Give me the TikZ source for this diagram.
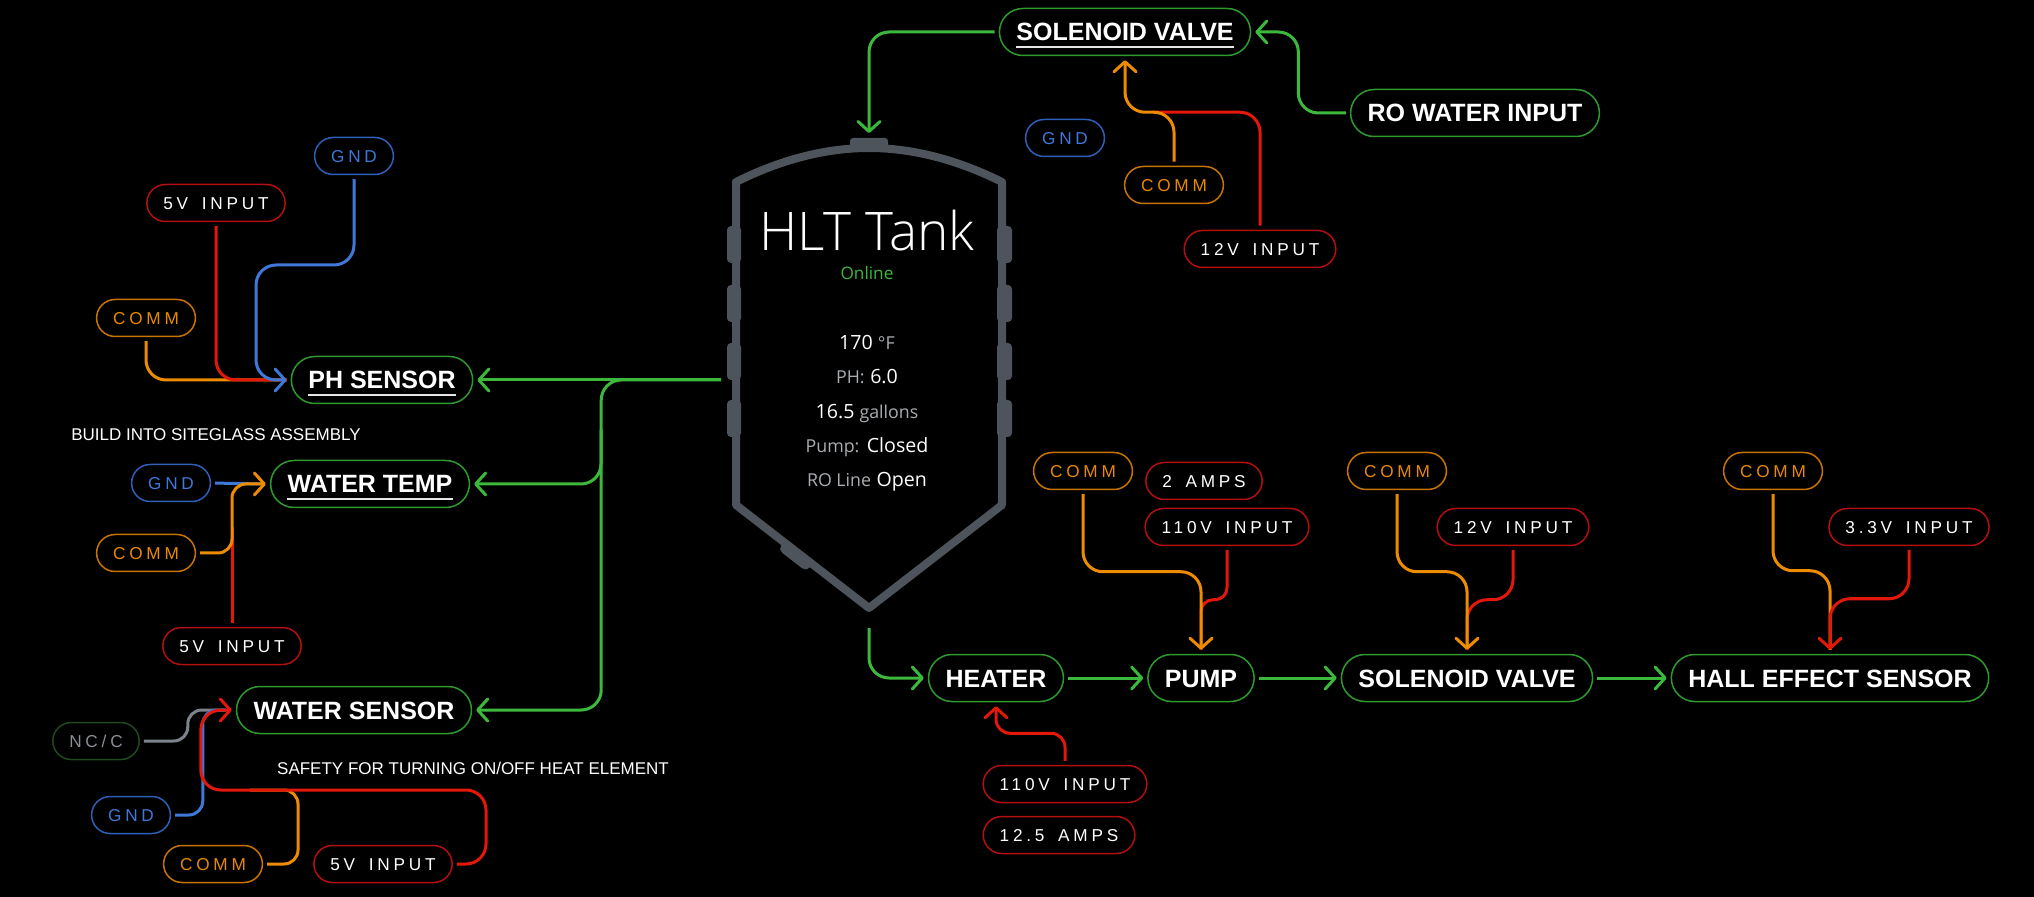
\documentclass[tikz,border=0pt]{standalone}
\usepackage{fontspec}
\setmainfont{Liberation Sans}
\newfontfamily\pillfont[LetterSpace=22,WordSpace=1.6]{Liberation Sans}
\newfontfamily\tankfont{Open Sans}
\newfontfamily\tanklight{Open Sans Light}
\usetikzlibrary{arrows.meta,calc}

\definecolor{gline}{HTML}{3CB93C}
\definecolor{gborder}{HTML}{2E9A2E}
\definecolor{rline}{HTML}{E3170A}
\definecolor{rborder}{HTML}{B50E0E}
\definecolor{oline}{HTML}{EE8C00}
\definecolor{oborder}{HTML}{C87400}
\definecolor{otext}{HTML}{E88A00}
\definecolor{bline}{HTML}{3F78D8}
\definecolor{bborder}{HTML}{2F5FB8}
\definecolor{btext}{HTML}{3F78D8}
\definecolor{ncline}{HTML}{7D838B}
\definecolor{ncborder}{HTML}{1E4A1E}
\definecolor{nctext}{HTML}{8A8F96}
\definecolor{tankgray}{HTML}{4D545C}
\definecolor{labgray}{HTML}{A9ADB2}
\definecolor{onlinegreen}{HTML}{3DB83D}
\definecolor{ulcol}{HTML}{E6E6E6}

\newcommand\tkval{\tankfont\fontsize{9.8}{12}\selectfont\color{white}}
\newcommand\tklab{\tankfont\fontsize{8.9}{12}\selectfont\color{labgray}}

\begin{document}
\begin{tikzpicture}[x=0.5pt,y=-0.5pt,
  mainnode/.style={draw=gborder, line width=0.75pt, rounded corners=11.75pt,
    minimum height=23.5pt, inner xsep=8.5pt, inner ysep=0pt,
    font=\fontsize{12.5}{15}\selectfont\bfseries, text=white,
    text height=9pt, text depth=0pt},
  pill/.style={line width=0.75pt, rounded corners=9.25pt, minimum height=18.5pt,
    inner xsep=8.25pt, inner ysep=0pt, font=\pillfont\fontsize{8.6}{11}\selectfont,
    text height=6.2pt, text depth=0pt},
  redpill/.style={pill, draw=rborder, text=white},
  orpill/.style={pill, draw=oborder, text=otext},
  bluepill/.style={pill, draw=bborder, text=btext},
  graypill/.style={pill, draw=ncborder, text=nctext},
  note/.style={font=\fontsize{8.5}{10}\selectfont, text=white, inner sep=0pt},
  wire/.style={line width=1.5pt, rounded corners=10pt, shorten <=2pt, shorten >=2pt},
  tightwire/.style={wire, rounded corners=7pt},
  arr/.style={-{Straight Barb[length=5pt,width=11pt,round]}},
  gw/.style={wire, draw=gline},
  rw/.style={wire, draw=rline},
  ow/.style={wire, draw=oline},
  bw/.style={wire, draw=bline},
  nw/.style={wire, draw=ncline},
  ulst/.style={draw=ulcol, line width=1pt},
  tankline/.style={draw=tankgray, line width=4pt, line join=round}
]
\useasboundingbox (0,0) rectangle (2034,897);
\fill[black] (0,0) rectangle (2034,897);

% ---------- tank ----------
\draw[tankline] (736,505) -- (736,182) .. controls (780,160) and (825,148) .. (869,148)
  .. controls (913,148) and (958,160) .. (1002,182) -- (1002,505) -- (869,608) -- cycle;
\fill[tankgray, rounded corners=1.5pt] (850,138) rectangle (888,150);
\foreach \yy in {226,285,343,400} {
  \fill[tankgray, rounded corners=2pt] (727,\yy) rectangle (741,\yy+37);
  \fill[tankgray, rounded corners=2pt] (997,\yy) rectangle (1012,\yy+37);
}
\draw[tankgray, line width=5.5pt, line cap=round] (785.6,548.5) -- (805.6,564);

\node[anchor=base, inner sep=0pt, font=\tanklight\fontsize{26.6}{30}\selectfont, text=white] (title) at (867,251) {HLT Tank};
\node[anchor=base, inner sep=0pt, font=\tankfont\fontsize{8.6}{10}\selectfont, text=onlinegreen] (online) at (867,280) {Online};
\node[anchor=base, inner sep=0pt] (t1) at (867,350) {\tkval 170 {\tklab °F}};
\node[anchor=base, inner sep=0pt] (t2) at (867,384) {{\tklab PH:} \tkval 6.0};
\node[anchor=base, inner sep=0pt] (t3) at (867,419) {\tkval 16.5 {\tklab gallons}};
\node[anchor=base, inner sep=0pt] (t4) at (867,453) {{\tklab Pump:} \tkval Closed};
\node[anchor=base, inner sep=0pt] (t5) at (867,487) {{\tklab RO Line} \tkval Open};

\coordinate (tankL) at (725,380);
\coordinate (tankTop) at (869,137);
\coordinate (tankBot) at (869,624);

% ---------- main nodes ----------
\node[mainnode] (phs) at (382,380) {PH SENSOR};
\node[mainnode] (wt) at (370,484) {WATER TEMP};
\node[mainnode] (ws) at (354,710) {WATER SENSOR};
\node[mainnode] (svtop) at (1125,32) {SOLENOID VALVE};
\node[mainnode] (ro) at (1475,113) {RO WATER INPUT};
\node[mainnode] (heater) at (996,678) {HEATER};
\node[mainnode] (pump) at (1201,678) {PUMP};
\node[mainnode] (sv) at (1467,678) {SOLENOID VALVE};
\node[mainnode] (hall) at (1830,678) {HALL EFFECT SENSOR};

\foreach \n in {phs,wt,svtop} {
  \draw[ulst] ($(\n.base west)+(8.5pt,-3pt)$) -- ($(\n.base east)+(-8.5pt,-3pt)$);
}

% ---------- pills ----------
\node[bluepill] (gndP) at (354,156) {GND};
\node[redpill] (v5P) at (216,203) {5V INPUT};
\node[orpill] (commP) at (146,318) {COMM};

\node[bluepill] (gndW) at (171,483) {GND};
\node[orpill] (commW) at (146,553) {COMM};
\node[redpill] (v5W) at (232,646) {5V INPUT};

\node[graypill] (nc) at (96,741) {NC/C};
\node[bluepill] (gndB) at (131,815) {GND};
\node[orpill] (commB) at (213,864) {COMM};
\node[redpill] (v5B) at (383,864) {5V INPUT};

\node[bluepill] (gndT) at (1065,138) {GND};
\node[orpill] (commT) at (1174,185) {COMM};
\node[redpill] (v12T) at (1260,249) {12V INPUT};

\node[orpill] (commPu) at (1083,471) {COMM};
\node[redpill] (amps2) at (1204,481) {2 AMPS};
\node[redpill] (v110Pu) at (1227,527) {110V INPUT};

\node[orpill] (commSv) at (1397,471) {COMM};
\node[redpill] (v12Sv) at (1513,527) {12V INPUT};

\node[orpill] (commH) at (1773,471) {COMM};
\node[redpill] (v33) at (1909,527) {3.3V INPUT};

\node[redpill] (v110H) at (1065,784) {110V INPUT};
\node[redpill] (amps125) at (1059,835) {12.5 AMPS};

\node[note] (build) at (216,435) {BUILD INTO SITEGLASS ASSEMBLY};
\node[note] (safety) at (473,768) {SAFETY FOR TURNING ON/OFF HEAT ELEMENT};

% ---------- PH sensor wires ----------
\draw[ow] (commP.south) |- (phs.west);
\draw[rw] (v5P.south) |- (phs.west);
\draw[bw, arr] (gndP.south) |- (256,265) |- (phs.west);

% ---------- water temp wires ----------
\draw[bw, shorten >=0pt] (gndW.east) -- ($(wt.west)+(-8,0)$);
\draw[rw, shorten >=0pt] (v5W.north) -- ++(0,-100);
\draw[ow, tightwire, arr] (commW.east) -| (v5W.north |- wt.west) -- (wt.west);

% ---------- water sensor wires ----------
\draw[nw, tightwire, shorten >=0pt] (nc.east) -| ($(ws.west)+(-48,0)$) -- ($(ws.west)+(-10,0)$);
\draw[bw, tightwire, shorten >=0pt] (gndB.east) -| ($(ws.west)+(-33,0)$) -- ($(ws.west)+(-10,0)$);
\draw[ow, tightwire, shorten >=0pt] (commB.east) -| (298,790) -- (250,790);
\draw[rw, arr] (v5B.east) -| (486,790) -| ($(ws.west)+(-35,0)$) -- (ws.west);

% ---------- green trunk ----------
\draw[gw, arr] (tankL) -- (phs.east);
\draw[gw, arr] (tankL) -| ($(ws.east)+(129,0)$) -- (ws.east);
\coordinate (trunk) at (601,430);
\draw[gw, arr, shorten <=0pt] (trunk) |- (wt.east);

% ---------- top solenoid ----------
\draw[gw, arr] (svtop.west) -| (tankTop);
\draw[gw, arr] (ro.west) -| ($(svtop.east)+(47,0)$) -- (svtop.east);
\draw[rw, shorten >=0pt] (v12T.north) |- ($(svtop.south)+(28,56)$);
\draw[ow, arr] (commT.north) |- ($(svtop.south)+(0,56)$) -- (svtop.south);

% ---------- lower chain ----------
\draw[gw, arr] (tankBot) |- (heater.west);
\draw[gw, arr] (heater.east) -- (pump.west);
\draw[gw, arr] (pump.east) -- (sv.west);
\draw[gw, arr] (sv.east) -- (hall.west);

\draw[rw, tightwire, arr] (v110H.north) |- ($(heater.south)+(0,31)$) -- (heater.south);

\draw[rw, rounded corners=6pt] (v110Pu.south) |- ($(pump.north)+(0,-54)$) -- (pump.north);
\draw[ow, arr] (commPu.south) |- ($(pump.north)+(0,-82)$) -- (pump.north);

\draw[rw] (v12Sv.south) |- ($(sv.north)+(0,-54)$) -- (sv.north);
\draw[ow, arr] (commSv.south) |- ($(sv.north)+(0,-82)$) -- (sv.north);

\draw[ow] (commH.south) |- ($(hall.north)+(0,-83)$) -- (hall.north);
\draw[rw, arr] (v33.south) |- ($(hall.north)+(0,-55)$) -- (hall.north);
\end{tikzpicture}
\end{document}
